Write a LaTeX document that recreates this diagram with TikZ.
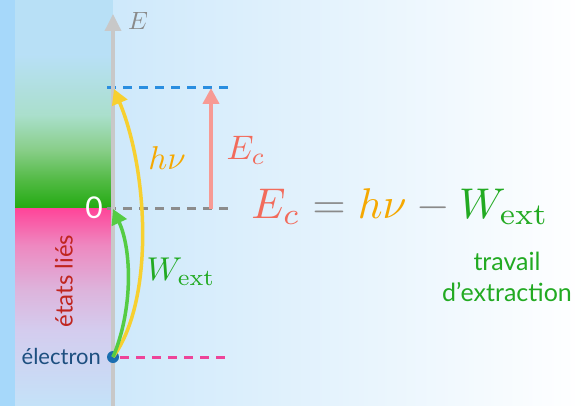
\documentclass[tikz,border=0pt]{standalone}
\usepackage{fontspec}
\newfontfamily\labfont{Lato}
\usetikzlibrary{arrows.meta}
\definecolor{bgL}{HTML}{C4E4FA}
\definecolor{strip}{HTML}{A6D8FA}
\definecolor{colTop}{HTML}{B8E0F6}
\definecolor{colMint}{HTML}{AADFCC}
\definecolor{colLG}{HTML}{88CE88}
\definecolor{colMG}{HTML}{52BA44}
\definecolor{colG}{HTML}{22AA11}
\definecolor{pk1}{HTML}{FF4499}
\definecolor{pk2}{HTML}{EE88C0}
\definecolor{pk3}{HTML}{DDB4DC}
\definecolor{pk4}{HTML}{D4CCEE}
\definecolor{pk5}{HTML}{C4E2F8}
\definecolor{axisgray}{HTML}{C8C8C8}
\definecolor{txtgray}{HTML}{8A8A8A}
\definecolor{dashblue}{HTML}{2A8EE0}
\definecolor{dashgray}{HTML}{8C8C8C}
\definecolor{dashpink}{HTML}{EE4499}
\definecolor{elblue}{HTML}{1A6EB0}
\definecolor{eltxt}{HTML}{1D4F80}
\definecolor{liered}{HTML}{C0251F}
\definecolor{yel}{HTML}{F7D030}
\definecolor{grn}{HTML}{55CC44}
\definecolor{pinkarr}{HTML}{F79A94}
\definecolor{ecred}{HTML}{F26B5B}
\definecolor{hnuor}{HTML}{F5A800}
\definecolor{wgrn}{HTML}{22AA22}
\tikzset{
  dashln/.style={line width=3pt, dash pattern=on 9pt off 7pt},
  curvarrow/.style={line width=3.5pt, -{Triangle[width=16pt,length=15pt]}},
}
\begin{document}
\begin{tikzpicture}[x=1pt,y=-1pt]
\useasboundingbox (0,0) rectangle (585,406);
% background
\shade[left color=bgL, right color=white] (15,0) rectangle (585,406);
\fill[strip] (0,0) rectangle (15,406);
% column, upper part
\fill[colTop] (15,0) rectangle (113,55);
\shade[top color=colTop, bottom color=colMint] (15,55) rectangle (113,115);
\shade[top color=colMint, bottom color=colLG] (15,115) rectangle (113,150);
\shade[top color=colLG, bottom color=colMG] (15,150) rectangle (113,180);
\shade[top color=colMG, bottom color=colG] (15,180) rectangle (113,208.5);
% column, lower part
\shade[top color=pk1, bottom color=pk2] (15,208) rectangle (113,245);
\shade[top color=pk2, bottom color=pk3] (15,245) rectangle (113,290);
\shade[top color=pk3, bottom color=pk4] (15,290) rectangle (113,330);
\shade[top color=pk4, bottom color=pk5] (15,330) rectangle (113,406);
% dashed levels
\coordinate (bl) at (107,88); \coordinate (br) at (232,88);
\coordinate (gl) at (107,208.5); \coordinate (gr) at (232,208.5);
\coordinate (pl) at (120,357); \coordinate (pr) at (232,357);
\draw[dashln, dashblue] (bl) -- (br);
\draw[dashln, dashgray] (gl) -- (gr);
\draw[dashln, dashpink] (pl) -- (pr);
% axis
\coordinate (ab) at (113,406); \coordinate (at) at (113,14);
\draw[axisgray, line width=3.5pt, -{Triangle[width=16pt,length=17pt]}] (ab) -- (at);
\node[txtgray] (Elab) at (138,21) {\scalebox{2.5}{$E$}};
% electron
\node[circle, fill=elblue, inner sep=0pt, minimum size=12pt] (el) at (113,357) {};
\node[eltxt, anchor=east, font=\labfont\fontsize{22}{26}\selectfont, inner sep=0pt] (eltext) at (101,356) {électron};
\node[white, font=\labfont\fontsize{30}{34}\selectfont, inner sep=0pt] (zero) at (94,208) {0};
\node[liered, rotate=90, font=\labfont\fontsize{24}{28}\selectfont, inner sep=0pt] (lies) at (64,281) {états liés};
% arrows
\coordinate (yend) at (114,89);
\coordinate (gend) at (113,209);
\draw[curvarrow, yel] (el.center) .. controls (155,300) and (148,170) .. (yend);
\draw[curvarrow, grn] (el.center) .. controls (133,310) and (132,250) .. (gend);
\coordinate (pab) at (211,208.5); \coordinate (pat) at (211,88);
\draw[pinkarr, line width=4pt, -{Triangle[width=16pt,length=16pt]}] (pab) -- (pat);
% labels
\node[hnuor] (hnu) at (167,158) {\scalebox{3.3}{$h\nu$}};
\node[wgrn] (wext) at (181,272) {\scalebox{3.3}{$W_{\mathrm{ext}}$}};
\node[ecred] (ec) at (246,150) {\scalebox{3.4}{$E_c$}};
% equation
\node[anchor=base] (eq) at (400,218)
  {\scalebox{4.3}{$\color{ecred}E_c \color{txtgray}= \color{hnuor}h\nu \color{txtgray}- \color{wgrn}W_{\mathrm{ext}}$}};
\node[wgrn, font=\labfont\fontsize{25}{31}\selectfont, align=center, inner sep=0pt] (trav) at (507,277) {travail\\d’extraction};
\end{tikzpicture}
\end{document}
